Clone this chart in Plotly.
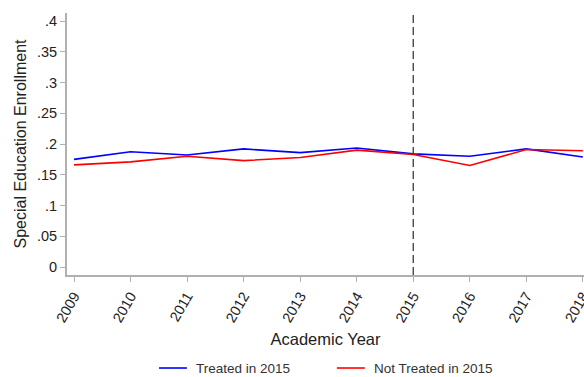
import plotly.graph_objects as go

years = [2009, 2010, 2011, 2012, 2013, 2014, 2015, 2016, 2017, 2018]
treated = [0.175, 0.1875, 0.182, 0.192, 0.186, 0.1935, 0.184, 0.180, 0.192, 0.179]
not_treated = [0.166, 0.171, 0.180, 0.173, 0.178, 0.190, 0.183, 0.165, 0.191, 0.189]
y_ticks = [0, 0.05, 0.1, 0.15, 0.2, 0.25, 0.3, 0.35, 0.4]
y_tick_text = ["0", ".05", ".1", ".15", ".2", ".25", ".3", ".35", ".4"]
treatment_year = 2015
series_names = ["Treated in 2015", "Not Treated in 2015"]
series_colors = ["#0000ff", "#ff0000"]

fig = go.Figure()
for name, vals, color in zip(series_names, [treated, not_treated], series_colors):
    fig.add_trace(go.Scatter(x=years, y=vals, mode="lines", name=name,
                             line=dict(color=color, width=1.6)))
fig.add_vline(x=treatment_year, line=dict(color="#3a3a3a", width=1.3, dash="8px,4px"))

# Legend row below the x-axis title: short line sample followed by its label
legend_y = -0.355
legend_x = [(0.178, 0.232), (0.522, 0.576)]
for (x0, x1), name, color in zip(legend_x, series_names, series_colors):
    fig.add_shape(type="line", xref="paper", yref="paper", x0=x0, x1=x1,
                  y0=legend_y, y1=legend_y, line=dict(color=color, width=1.6))
    fig.add_annotation(xref="paper", yref="paper", x=x1 + 0.013, y=legend_y,
                       text=name, showarrow=False, xanchor="left", yanchor="middle",
                       font=dict(size=13.5, color="#333333"))

font = "Liberation Sans, Arial, sans-serif"
axis_style = dict(showgrid=False, zeroline=False, showline=True, linecolor="#b0b0b0",
                  linewidth=2, ticks="outside", ticklen=5, tickcolor="#b0b0b0",
                  tickwidth=1, tickfont=dict(size=14.5), automargin=False)
fig.update_layout(
    width=584, height=377,
    margin=dict(l=67, r=0, t=13, b=102, autoexpand=False),
    plot_bgcolor="white", paper_bgcolor="white",
    font=dict(family=font, size=14, color="#222222"),
    showlegend=False,
    xaxis=dict(range=[2008.876, 2018.02], tickvals=years, tickangle=-60,
               ticklabeloverflow="allow",
               title=dict(text="Academic Year", font=dict(size=16.5), standoff=9),
               **axis_style),
    yaxis=dict(range=[-0.013, 0.413], tickvals=y_ticks, ticktext=y_tick_text,
               title=dict(text="Special Education Enrollment", font=dict(size=16), standoff=6),
               **axis_style),
)

fig.write_html("out.html")
